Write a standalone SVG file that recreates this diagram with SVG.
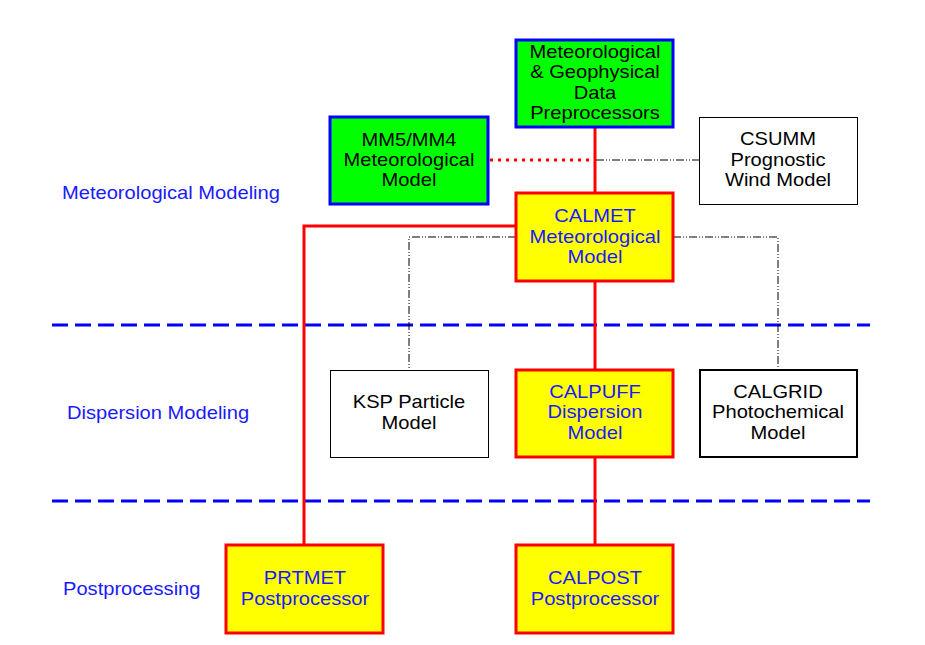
<svg xmlns="http://www.w3.org/2000/svg" width="925" height="645" viewBox="0 0 925 645">
<style>
text{font-family:"Liberation Sans",Arial,sans-serif;font-size:17.5px;text-anchor:middle}
.blk{fill:#000}
.blu{fill:#1a1aff}
.lbl{fill:#1a1aff;text-anchor:start}
.green{fill:#00ff00;stroke:#0000ff;stroke-width:3}
.yel{fill:#ffff00;stroke:#ff0000;stroke-width:3}
.wht{fill:#fff;stroke:#000;stroke-width:1}
.wht2{fill:#fff;stroke:#000;stroke-width:2}
.red{stroke:#ff0000;stroke-width:3;fill:none}
.reddot{stroke:#ff0000;stroke-width:3;fill:none;stroke-dasharray:3 5}
.dd{stroke:#000;stroke-width:1;fill:none;stroke-dasharray:8 2 1 2 1 2}
.sep{stroke:#0000ff;stroke-width:3;fill:none;stroke-dasharray:16 7}
</style>
<rect width="925" height="645" fill="#fff"/>
<g id="separators">
<line class="sep" x1="52" y1="325" x2="870" y2="325"/>
<line class="sep" x1="52" y1="501" x2="870" y2="501"/>
</g>
<g id="labels">
<text class="lbl" x="62" y="199" transform="matrix(1.15 0 0 1 -9.3 0)">Meteorological Modeling</text>
<text class="lbl" x="67" y="419" transform="matrix(1.15 0 0 1 -10.05 0)">Dispersion Modeling</text>
<text class="lbl" x="63" y="595" transform="matrix(1.15 0 0 1 -9.45 0)">Postprocessing</text>
</g>
<g id="connectors">
<line class="red" x1="595" y1="127" x2="595" y2="193"/>
<line class="red" x1="595" y1="281" x2="595" y2="370"/>
<line class="red" x1="595" y1="457" x2="595" y2="545"/>
<polyline class="red" points="516,226 304,226 304,545"/>
<line class="reddot" x1="490" y1="160" x2="593" y2="160"/>
<line class="dd" x1="596" y1="160" x2="699" y2="160"/>
<polyline class="dd" points="516,237 409,237 409,370"/>
<polyline class="dd" points="673,237 778,237 778,370"/>
</g>
<g id="metgeo">
<rect class="green" x="516" y="40" width="157" height="87"/>
<g transform="matrix(1.15 0 0 1 -89.25 0)">
<text class="blk" x="595" y="58">Meteorological</text>
<text class="blk" x="595" y="78">&amp; Geophysical</text>
<text class="blk" x="595" y="99">Data</text>
<text class="blk" x="595" y="119">Preprocessors</text>
</g>
</g>
<g id="mm5">
<rect class="green" x="330" y="117" width="158" height="87"/>
<g transform="matrix(1.15 0 0 1 -61.35 0)">
<text class="blk" x="409" y="146">MM5/MM4</text>
<text class="blk" x="409" y="166">Meteorological</text>
<text class="blk" x="409" y="186">Model</text>
</g>
</g>
<g id="csumm">
<rect class="wht" x="699.500" y="117.500" width="158" height="87"/>
<g transform="matrix(1.15 0 0 1 -116.7 0)">
<text class="blk" x="778" y="145">CSUMM</text>
<text class="blk" x="778" y="166">Prognostic</text>
<text class="blk" x="778" y="186">Wind Model</text>
</g>
</g>
<g id="calmet">
<rect class="yel" x="516" y="193" width="157" height="88"/>
<g transform="matrix(1.15 0 0 1 -89.25 0)">
<text class="blu" x="595" y="222">CALMET</text>
<text class="blu" x="595" y="243">Meteorological</text>
<text class="blu" x="595" y="263">Model</text>
</g>
</g>
<g id="ksp">
<rect class="wht" x="330.500" y="370.500" width="158" height="87"/>
<g transform="matrix(1.15 0 0 1 -61.35 0)">
<text class="blk" x="409" y="408">KSP Particle</text>
<text class="blk" x="409" y="429">Model</text>
</g>
</g>
<g id="calpuff">
<rect class="yel" x="516" y="370" width="157" height="87"/>
<g transform="matrix(1.15 0 0 1 -89.25 0)">
<text class="blu" x="595" y="398">CALPUFF</text>
<text class="blu" x="595" y="418">Dispersion</text>
<text class="blu" x="595" y="439">Model</text>
</g>
</g>
<g id="calgrid">
<rect class="wht2" x="700" y="370" width="157" height="87"/>
<g transform="matrix(1.15 0 0 1 -116.7 0)">
<text class="blk" x="778" y="398">CALGRID</text>
<text class="blk" x="778" y="418">Photochemical</text>
<text class="blk" x="778" y="439">Model</text>
</g>
</g>
<g id="prtmet">
<rect class="yel" x="226" y="545" width="157" height="88"/>
<g transform="matrix(1.15 0 0 1 -45.75 0)">
<text class="blu" x="305" y="584">PRTMET</text>
<text class="blu" x="305" y="605">Postprocessor</text>
</g>
</g>
<g id="calpost">
<rect class="yel" x="516" y="545" width="157" height="88"/>
<g transform="matrix(1.15 0 0 1 -89.25 0)">
<text class="blu" x="595" y="584">CALPOST</text>
<text class="blu" x="595" y="605">Postprocessor</text>
</g>
</g>
</svg>
